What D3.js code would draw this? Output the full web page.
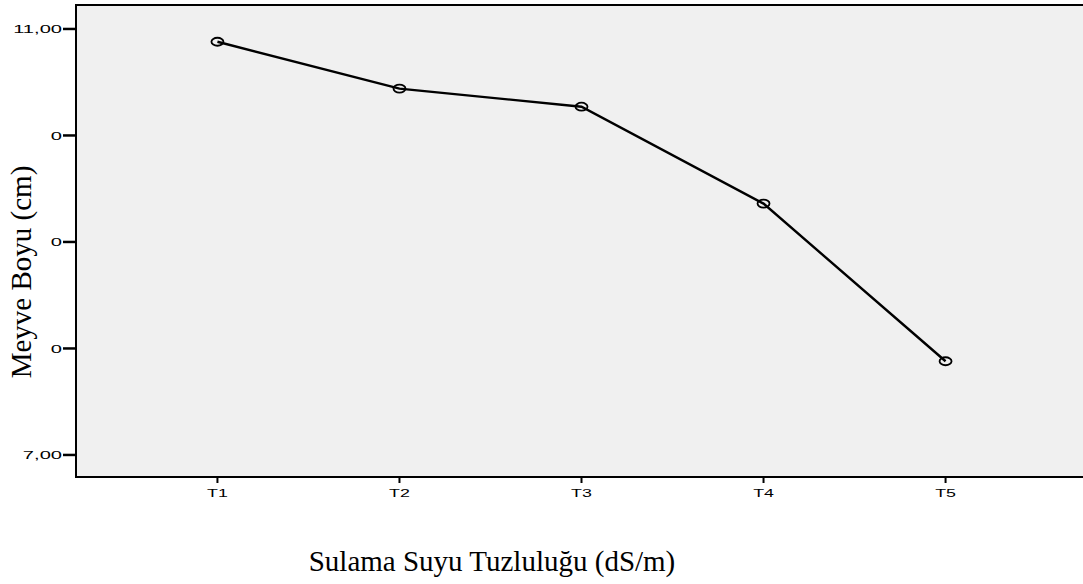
<!DOCTYPE html>
<html>
<head>
<meta charset="utf-8">
<script src="https://cdn.jsdelivr.net/npm/d3@7"></script>
<style>
  body { margin: 0; background: #fff; }
  svg { display: block; }
</style>
</head>
<body>
<div id="chart"></div>
<script>
// data
const categories = ["T1", "T2", "T3", "T4", "T5"];
const meanValues = [10.88, 10.44, 10.27, 9.36, 7.88];
const yTickValues = [7, 8, 9, 10, 11];
const yTickLabels = ["7,00", "0", "0", "0", "11,00"];

const WIDTH = 1083;
const HEIGHT = 584;
const plot = { left: 76, top: 5, right: 1087, bottom: 477 };

const svg = d3.select("#chart")
  .append("svg")
  .attr("width", WIDTH)
  .attr("height", HEIGHT);

const x = d3.scalePoint()
  .domain(categories)
  .range([plot.left, plot.right])
  .padding(0.777);

const y = d3.scaleLinear()
  .domain([6.793, 11.225])
  .range([plot.bottom, plot.top]);

// plot background
svg.append("rect")
  .attr("x", plot.left)
  .attr("y", plot.top)
  .attr("width", plot.right - plot.left)
  .attr("height", plot.bottom - plot.top)
  .attr("fill", "#f0f0f0");

// frame (top, left, bottom)
svg.append("path")
  .attr("d", `M${plot.right},${plot.top}H${plot.left}V${plot.bottom}H${plot.right}`)
  .attr("fill", "none")
  .attr("stroke", "#000")
  .attr("stroke-width", 2);

// y ticks
const yTicks = svg.append("g")
  .selectAll("g")
  .data(yTickValues)
  .join("g")
  .attr("transform", d => `translate(0,${y(d)})`);

yTicks.append("line")
  .attr("x1", 63)
  .attr("x2", plot.left)
  .attr("stroke", "#000")
  .attr("stroke-width", 2.5);

yTicks.append("text")
  .attr("transform", "translate(62,0) scale(1.75,1)")
  .attr("text-anchor", "end")
  .attr("dy", "0.36em")
  .style("font", "11.5px 'Liberation Sans', Arial, sans-serif")
  .attr("fill", "#000")
  .text((d, i) => yTickLabels[i]);

// x ticks
const xTicks = svg.append("g")
  .selectAll("g")
  .data(categories)
  .join("g")
  .attr("transform", d => `translate(${x(d)},${plot.bottom})`);

xTicks.append("line")
  .attr("y1", 0)
  .attr("y2", 6)
  .attr("stroke", "#000")
  .attr("stroke-width", 2);

xTicks.append("text")
  .attr("transform", "translate(0,20) scale(1.55,1)")
  .attr("text-anchor", "middle")
  .style("font", "11.5px 'Liberation Sans', Arial, sans-serif")
  .attr("fill", "#000")
  .text(d => d);

// line
const line = d3.line()
  .x((d, i) => x(categories[i]))
  .y(d => y(d));

svg.append("path")
  .datum(meanValues)
  .attr("d", line)
  .attr("fill", "none")
  .attr("stroke", "#000")
  .attr("stroke-width", 2.4);

// markers
svg.append("g")
  .selectAll("ellipse")
  .data(meanValues)
  .join("ellipse")
  .attr("cx", (d, i) => x(categories[i]))
  .attr("cy", d => y(d))
  .attr("rx", 6)
  .attr("ry", 4)
  .attr("fill", "none")
  .attr("stroke", "#000")
  .attr("stroke-width", 1.8);

// axis titles
svg.append("text")
  .attr("x", 492)
  .attr("y", 571)
  .attr("text-anchor", "middle")
  .style("font", "29px 'Liberation Serif', 'Times New Roman', serif")
  .attr("fill", "#000")
  .text("Sulama Suyu Tuzluluğu (dS/m)");

svg.append("text")
  .attr("transform", "translate(31,272) rotate(-90)")
  .attr("text-anchor", "middle")
  .style("font", "29px 'Liberation Serif', 'Times New Roman', serif")
  .attr("fill", "#000")
  .text("Meyve Boyu (cm)");
</script>
</body>
</html>
